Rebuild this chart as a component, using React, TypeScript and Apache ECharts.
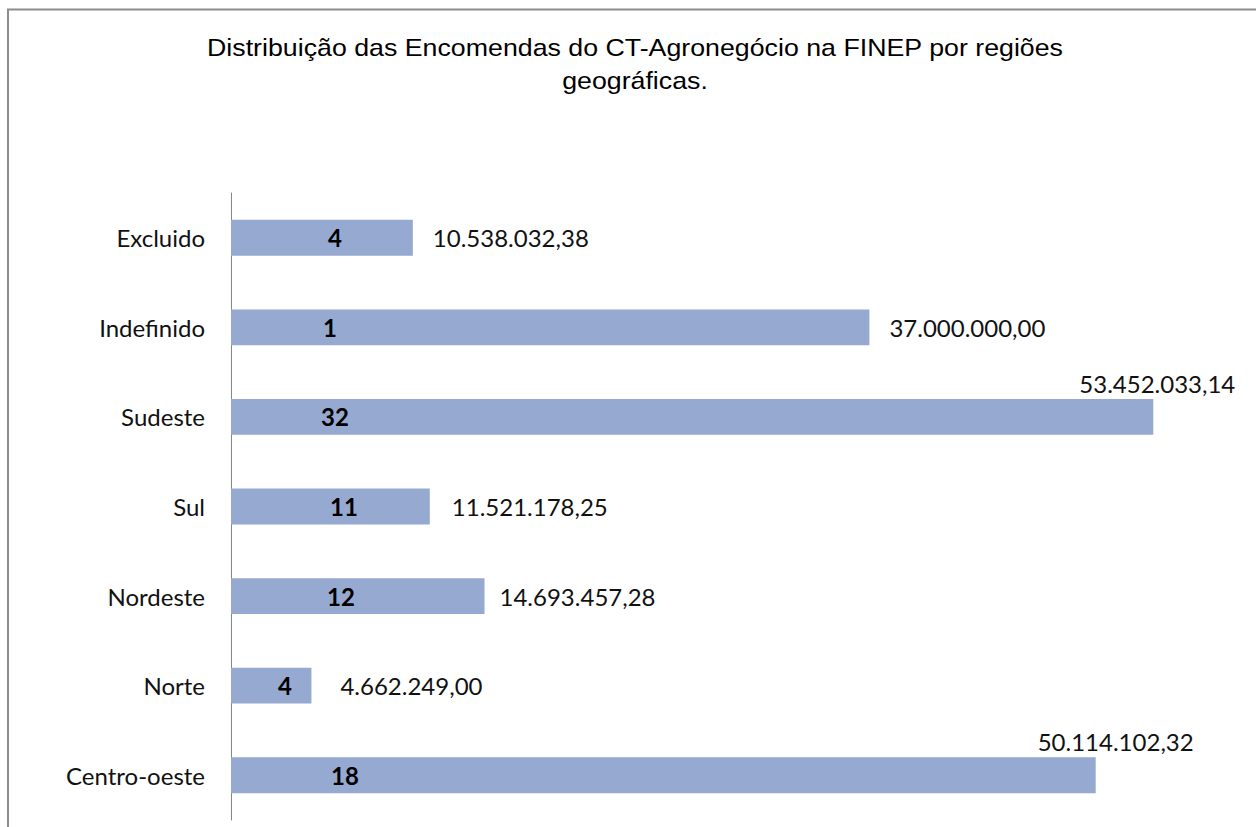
import React, { useEffect, useRef } from "react";
import * as echarts from "echarts";

const categories = ["Excluido", "Indefinido", "Sudeste", "Sul", "Nordeste", "Norte", "Centro-oeste"];
const amounts = [10538032.38, 37000000.0, 53452033.14, 11521178.25, 14693457.28, 4662249.0, 50114102.32];
const counts = [4, 1, 32, 11, 12, 4, 18];

// label placement (layout only)
const countLabelX = [104, 99, 104, 113, 110, 54, 114];
const amountLabelOffset: [number, number][] = [
  [20, 0], [20, 0], [-74, -33], [22, 0], [15, 0], [29, 0], [-58, -34],
];

const titleText = "Distribuição das Encomendas do CT-Agronegócio na FINEP por regiões\ngeográficas.";

function fmtBR(v: number): string {
  const fixed = v.toFixed(2);
  const [intPart, dec] = fixed.split(".");
  const withDots = intPart.replace(/\B(?=(\d{3})+(?!\d))/g, ".");
  return withDots + "," + dec;
}

export default function App() {
  const ref = useRef<HTMLDivElement>(null);
  useEffect(() => {
    document.body.style.margin = "0";
    if (!ref.current) return;
    const chart = echarts.init(ref.current, null, { renderer: "svg" });
    const labelFont = "Lato, 'Open Sans', sans-serif";
    chart.setOption({
      animation: false,
      backgroundColor: "#ffffff",
      graphic: [
        {
          type: "line",
          shape: { x1: 7, y1: 9.5, x2: 1256, y2: 9.5 },
          style: { stroke: "#8c8c8c", lineWidth: 2 },
        },
        {
          type: "line",
          shape: { x1: 8, y1: 9, x2: 8, y2: 827 },
          style: { stroke: "#8c8c8c", lineWidth: 2 },
        },
        {
          type: "text",
          x: 635,
          y: 31,
          scaleX: 1.115,
          originX: 0,
          style: {
            text: titleText,
            fill: "#000000",
            font: "24px 'Liberation Sans', Arial, sans-serif",
            textAlign: "center",
            lineHeight: 33,
          },
        },
      ],
      grid: { left: 231, right: 76, top: 193, bottom: 7, containLabel: false },
      xAxis: {
        type: "value",
        min: 0,
        max: 55000000,
        show: false,
        splitLine: { show: false },
      },
      yAxis: {
        type: "category",
        data: categories,
        inverse: true,
        axisLine: { show: true, lineStyle: { color: "#868686", width: 1 } },
        axisTick: { show: false },
        axisLabel: {
          margin: 26,
          color: "#111111",
          fontFamily: labelFont,
          fontSize: 24,
        },
      },
      series: [
        {
          type: "bar",
          data: amounts.map((v, i) => ({
            value: v,
            label: {
              show: true,
              position: [countLabelX[i], "50%"],
              align: "center",
              verticalAlign: "middle",
              formatter: String(counts[i]),
            },
          })),
          barCategoryGap: "60%",
          itemStyle: { color: "#95a9d1" },
          label: {
            show: true,
            color: "#000000",
            fontWeight: "bold",
            fontFamily: labelFont,
            fontSize: 24,
          },
          z: 2,
        },
        {
          type: "bar",
          data: amounts.map((v, i) => ({
            value: v,
            label: {
              show: true,
              position: "right",
              distance: 0,
              offset: amountLabelOffset[i],
              formatter: fmtBR(v),
            },
          })),
          barGap: "-100%",
          barCategoryGap: "60%",
          itemStyle: { color: "rgba(0,0,0,0)" },
          label: {
            color: "#111111",
            fontFamily: labelFont,
            fontSize: 24,
          },
          silent: true,
          z: 3,
        },
      ],
    });
    return () => chart.dispose();
  }, []);
  return <div ref={ref} style={{ width: 1256, height: 827 }} />;
}
